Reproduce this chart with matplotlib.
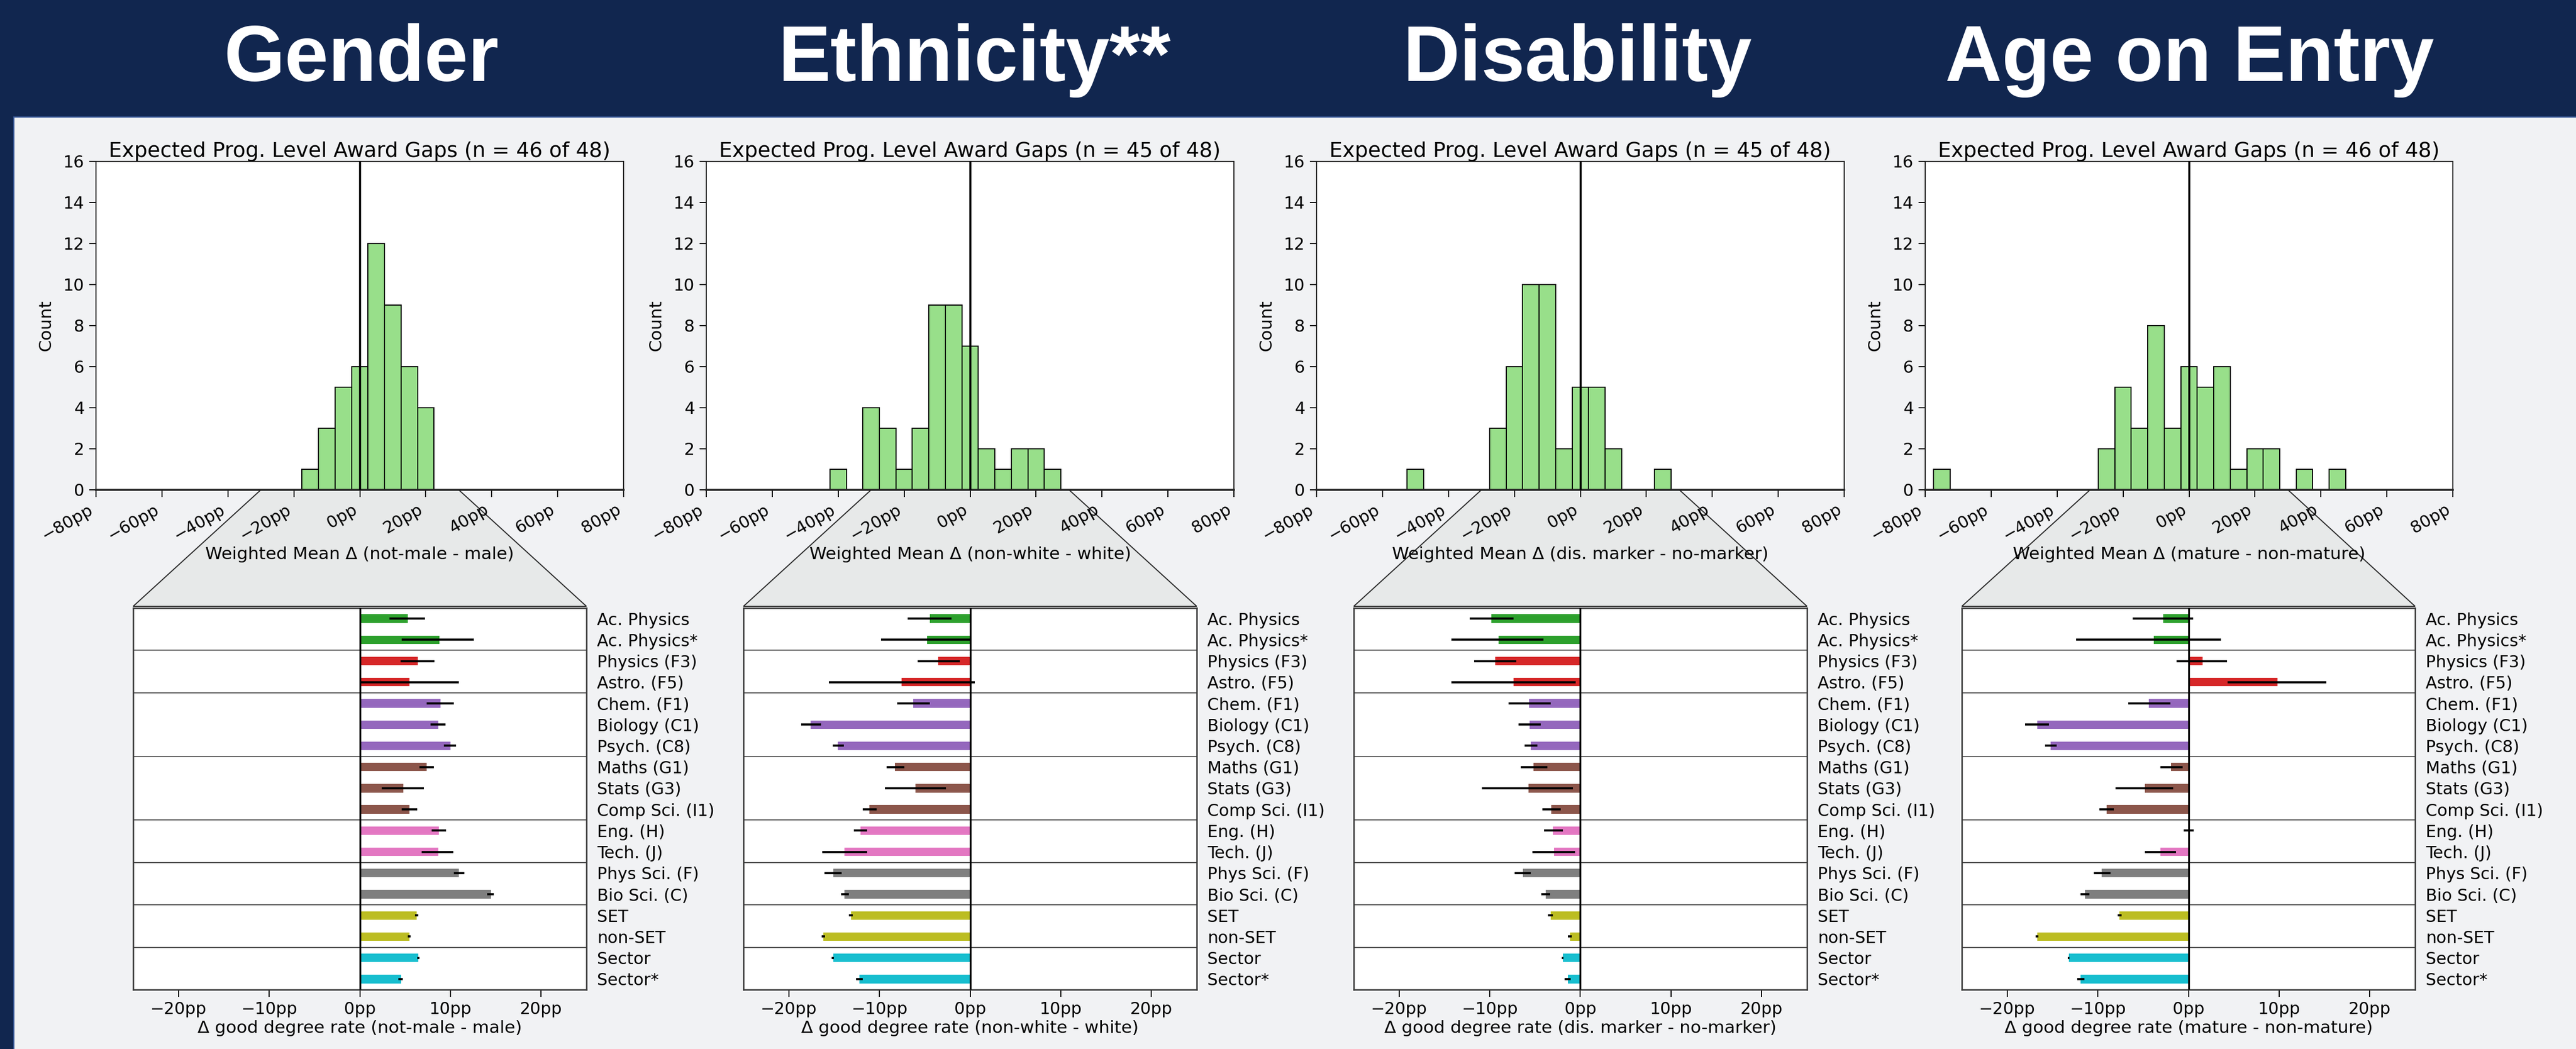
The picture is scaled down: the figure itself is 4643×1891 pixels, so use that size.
import numpy as np
import matplotlib
matplotlib.use("Agg")
import matplotlib.pyplot as plt
from matplotlib.patches import Rectangle, Polygon
from matplotlib.lines import Line2D

# ---------------------------------------------------------------- data
panel_names = ["Gender", "Ethnicity**", "Disability", "Age on Entry"]
hist_titles = [
    "Expected Prog. Level Award Gaps (n = 46 of 48)",
    "Expected Prog. Level Award Gaps (n = 45 of 48)",
    "Expected Prog. Level Award Gaps (n = 45 of 48)",
    "Expected Prog. Level Award Gaps (n = 46 of 48)",
]
comparisons = ["not-male - male", "non-white - white",
               "dis. marker - no-marker", "mature - non-mature"]

# histogram bins (5pp wide, centred on multiples of 5) and counts
gender_bins = [-15, -10, -5, 0, 5, 10, 15, 20]
gender_counts = [1, 3, 5, 6, 12, 9, 6, 4]
ethnicity_bins = [-40, -35, -30, -25, -20, -15, -10, -5, 0, 5, 10, 15, 20, 25]
ethnicity_counts = [1, 0, 4, 3, 1, 3, 9, 9, 7, 2, 1, 2, 2, 1]
disability_bins = [-50, -25, -20, -15, -10, -5, 0, 5, 10, 25]
disability_counts = [1, 3, 6, 10, 10, 2, 5, 5, 2, 1]
age_bins = [-75, -25, -20, -15, -10, -5, 0, 5, 10, 15, 20, 25, 35, 45]
age_counts = [1, 2, 5, 3, 8, 3, 6, 5, 6, 1, 2, 2, 1, 1]

subjects = ["Ac. Physics", "Ac. Physics*", "Physics (F3)", "Astro. (F5)",
            "Chem. (F1)", "Biology (C1)", "Psych. (C8)", "Maths (G1)",
            "Stats (G3)", "Comp Sci. (I1)", "Eng. (H)", "Tech. (J)",
            "Phys Sci. (F)", "Bio Sci. (C)", "SET", "non-SET",
            "Sector", "Sector*"]
subject_group = [0, 0, 1, 1, 2, 2, 2, 3, 3, 3, 4, 4, 5, 5, 6, 6, 7, 7]

# gap in good-degree rate (pp) with interval bounds
gender_gap = [5.3, 8.8, 6.4, 5.5, 8.9, 8.65, 10.0, 7.4, 4.8, 5.5, 8.7, 8.65,
              10.95, 14.45, 6.25, 5.45, 6.45, 4.55]
gender_lo = [3.3, 4.6, 4.5, 0.0, 7.4, 7.8, 9.3, 6.6, 2.4, 4.6, 7.9, 6.85,
             10.35, 14.05, 6.1, 5.3, 6.33, 4.25]
gender_hi = [7.2, 12.6, 8.25, 10.95, 10.4, 9.45, 10.6, 8.15, 7.05, 6.35, 9.5,
             10.3, 11.55, 14.75, 6.45, 5.6, 6.57, 4.75]

ethnicity_gap = [-4.45, -4.75, -3.5, -7.55, -6.3, -17.6, -14.6, -8.3, -6.05,
                 -11.1, -12.1, -13.85, -15.1, -13.85, -13.15, -16.2, -15.1, -12.2]
ethnicity_lo = [-6.9, -9.85, -5.8, -15.55, -8.05, -18.65, -15.15, -9.2, -9.4,
                -11.85, -12.8, -16.3, -16.05, -14.25, -13.35, -16.4, -15.25, -12.55]
ethnicity_hi = [-2.05, 0.0, -1.15, 0.5, -4.45, -16.45, -13.9, -7.25, -2.65,
                -10.3, -11.35, -11.35, -14.15, -13.4, -12.95, -16.0, -15.0, -11.85]

disability_gap = [-9.8, -9.05, -9.4, -7.35, -5.65, -5.6, -5.5, -5.15, -5.7,
                  -3.2, -3.0, -2.9, -6.35, -3.85, -3.3, -1.15, -1.95, -1.4]
disability_lo = [-12.2, -14.25, -11.75, -14.2, -7.95, -6.8, -6.15, -6.55, -10.85,
                 -4.2, -4.0, -5.3, -7.25, -4.3, -3.55, -1.35, -2.05, -1.75]
disability_hi = [-7.35, -4.05, -7.05, -0.5, -3.3, -4.35, -4.75, -3.65, -0.85,
                 -2.15, -1.95, -0.6, -5.45, -3.35, -3.05, -0.95, -1.85, -1.05]

age_gap = [-2.8, -3.85, 1.55, 9.85, -4.35, -16.7, -15.2, -1.9, -4.8, -9.05,
           0.0, -3.1, -9.6, -11.4, -7.6, -16.7, -13.2, -11.9]
age_lo = [-6.15, -12.4, -1.3, 4.3, -6.65, -18.0, -15.8, -3.1, -8.05, -9.8,
          -0.55, -4.8, -10.45, -11.9, -7.8, -16.85, -13.3, -12.25]
age_hi = [0.5, 3.55, 4.25, 15.2, -2.0, -15.4, -14.55, -0.65, -1.7, -8.25,
          0.6, -1.35, -8.6, -10.95, -7.4, -16.55, -13.1, -11.5]

hist_data = [(gender_bins, gender_counts), (ethnicity_bins, ethnicity_counts),
             (disability_bins, disability_counts), (age_bins, age_counts)]
gap_data = [(gender_gap, gender_lo, gender_hi),
            (ethnicity_gap, ethnicity_lo, ethnicity_hi),
            (disability_gap, disability_lo, disability_hi),
            (age_gap, age_lo, age_hi)]

# ---------------------------------------------------------------- style
group_colors = ["tab:green", "tab:red", "tab:purple", "tab:brown",
                "tab:pink", "tab:gray", "tab:olive", "tab:cyan"]
NAVY = "#11264f"
PAGE = "#f1f2f4"
HIST_GREEN = "#98df8a"
TRAP = "#e7e9e9"
TICK_FS = 21.6
LABEL_FS = 22.5
TITLE_FS = 27

W, H, DPI = 4643, 1891, 100
fig = plt.figure(figsize=(W / DPI, H / DPI), dpi=DPI, facecolor=NAVY)


def px_rect(x0, y0, w, h):
    return [x0 / W, 1 - (y0 + h) / H, w / W, h / H]


# page background below the banner
fig.add_artist(Rectangle((25 / W, 0), 1 - 25 / W, 1 - 211 / H,
                         transform=fig.transFigure, facecolor=PAGE,
                         edgecolor="none", zorder=-10))
fig.add_artist(Line2D([25 / W, 25 / W], [0, 1 - 211 / H], transform=fig.transFigure,
                      color="#3b5b9b", lw=1.5, zorder=-9))
fig.add_artist(Line2D([25 / W, 1], [1 - 211 / H, 1 - 211 / H], transform=fig.transFigure,
                      color="#3b5b9b", lw=1.5, zorder=-9))

banner_x = [651, 1756, 2843, 3947]
hist_left = [173, 1273, 2373, 3470]
bar_left = [240, 1340, 2440, 3536]
HIST_TOP, HIST_W, HIST_H = 291, 951, 592
BAR_TOP, BAR_W, BAR_H = 1096, 817, 688


def pp(v):
    return f"{v:.0f}pp".replace("-", "\u2212")


for i in range(4):
    fig.text(banner_x[i] / W, 1 - 146 / H, panel_names[i], ha="center",
             va="baseline", fontsize=102, fontweight="bold", color="white",
             family="Liberation Sans")

    # ---- histogram of programme-level gaps
    ax_h = fig.add_axes(px_rect(hist_left[i], HIST_TOP, HIST_W, HIST_H))
    ax_h.set_facecolor("white")
    centers, counts = hist_data[i]
    ax_h.bar(centers, counts, width=5, color=HIST_GREEN, edgecolor="black",
             linewidth=1.4, zorder=2)
    ax_h.axvline(0, color="black", lw=2.6, zorder=3)
    ax_h.set_xlim(-80, 80)
    ax_h.set_ylim(0, 16)
    ax_h.set_yticks(np.arange(0, 17, 2))
    xt = np.arange(-80, 81, 20)
    ax_h.set_xticks(xt, [pp(v) for v in xt], rotation=30, ha="right")
    ax_h.tick_params(labelsize=TICK_FS, length=9, width=1.4, pad=6)
    for s in ax_h.spines.values():
        s.set_linewidth(1.4)
        s.set_color("#222222")
    ax_h.spines["bottom"].set_linewidth(2.6)
    ax_h.set_title(hist_titles[i], fontsize=TITLE_FS, pad=5)
    ax_h.set_ylabel("Count", fontsize=LABEL_FS, labelpad=12)
    ax_h.set_xlabel(f"Weighted Mean \u0394 ({comparisons[i]})",
                    fontsize=LABEL_FS, labelpad=4)

    # ---- per-subject gaps with intervals
    ax_b = fig.add_axes(px_rect(bar_left[i], BAR_TOP, BAR_W, BAR_H))
    ax_b.set_facecolor("white")
    gap, lo, hi = (np.asarray(a, dtype=float) for a in gap_data[i])
    rows = np.arange(len(subjects))
    colors = [group_colors[g] for g in subject_group]
    ax_b.barh(rows, gap, height=0.4, color=colors, zorder=2)
    ax_b.errorbar(gap, rows, xerr=[gap - lo, hi - gap], fmt="none",
                  ecolor="black", elinewidth=2.7, capsize=0, zorder=4)
    ax_b.axvline(0, color="black", lw=2.4, zorder=3)
    for g in range(1, len(group_colors)):
        boundary = subject_group.index(g) - 0.5
        ax_b.axhline(boundary, color="#444444", lw=1.3, zorder=1)
    ax_b.set_ylim(len(subjects) - 0.5, -0.5)
    ax_b.set_xlim(-25, 25)
    bt = np.arange(-20, 21, 10)
    ax_b.set_xticks(bt, [pp(v) for v in bt])
    ax_b.set_yticks(rows, subjects)
    ax_b.yaxis.tick_right()
    ax_b.tick_params(axis="y", length=0, pad=14, labelsize=TICK_FS)
    ax_b.tick_params(axis="x", length=9, width=1.4, pad=6, labelsize=TICK_FS)
    for s in ax_b.spines.values():
        s.set_linewidth(1.8)
        s.set_color("#333333")
    ax_b.set_xlabel(f"\u0394 good degree rate ({comparisons[i]})",
                    fontsize=LABEL_FS, labelpad=4)

    # ---- zoom trapezoid linking the two panels
    to_fig = fig.transFigure.inverted()
    p_tl = to_fig.transform(ax_h.transData.transform((-30, 0)))
    p_tr = to_fig.transform(ax_h.transData.transform((30, 0)))
    p_br = to_fig.transform(ax_b.transAxes.transform((1, 1)))
    p_bl = to_fig.transform(ax_b.transAxes.transform((0, 1)))
    lift = 3 / H
    fig.add_artist(Polygon([p_tl, p_tr, (p_br[0], p_br[1] + lift),
                            (p_bl[0], p_bl[1] + lift)], closed=True,
                           transform=fig.transFigure, facecolor=TRAP,
                           edgecolor="#2a2a2a", lw=1.4, zorder=-5))

fig.savefig("out.png", dpi=DPI, facecolor=NAVY)
